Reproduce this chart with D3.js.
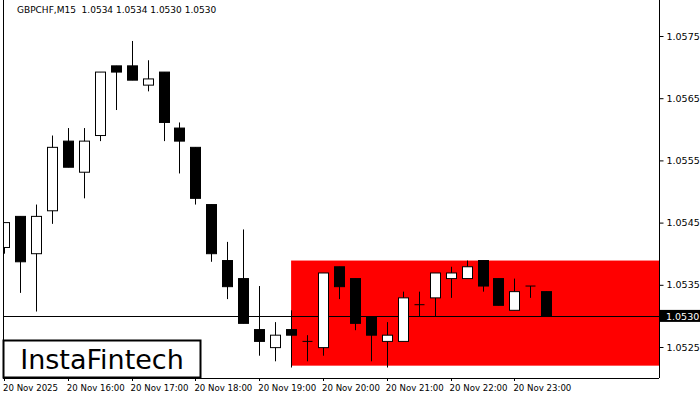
<!DOCTYPE html>
<html><head><meta charset="utf-8">
<script src="https://cdn.jsdelivr.net/npm/d3@7"></script>
<style>body{margin:0;background:#fff}text{font-family:"DejaVu Sans",sans-serif;white-space:pre}</style>
</head><body><svg id="c" width="700" height="400"></svg>
<script>
const opens =[1.05410,1.05460,1.05400,1.05469,1.05581,1.05531,1.05590,1.05702,1.05702,1.05671,1.05692,1.05602,1.05571,1.05479,1.05389,1.05360,1.05278,1.05249,1.05278,1.05259,1.05249,1.05379,1.05360,1.05299,1.05259,1.05259,1.05318,1.05329,1.05360,1.05360,1.05389,1.05360,1.05309,1.05348,1.05339];
const highs =[1.05450,1.05460,1.05479,1.05590,1.05602,1.05602,1.05692,1.05702,1.05742,1.05711,1.05692,1.05611,1.05571,1.05479,1.05419,1.05439,1.05348,1.05290,1.05309,1.05269,1.05369,1.05379,1.05360,1.05299,1.05290,1.05339,1.05339,1.05369,1.05379,1.05389,1.05389,1.05360,1.05360,1.05348,1.05339];
const lows  =[1.05400,1.05337,1.05307,1.05448,1.05539,1.05489,1.05581,1.05631,1.05679,1.05661,1.05581,1.05529,1.05479,1.05387,1.05327,1.05288,1.05236,1.05227,1.05217,1.05227,1.05236,1.05327,1.05277,1.05227,1.05217,1.05259,1.05299,1.05299,1.05329,1.05360,1.05339,1.05317,1.05309,1.05329,1.05299];
const closes=[1.05450,1.05387,1.05460,1.05571,1.05539,1.05581,1.05692,1.05692,1.05679,1.05681,1.05611,1.05581,1.05489,1.05400,1.05347,1.05288,1.05259,1.05269,1.05269,1.05259,1.05369,1.05347,1.05288,1.05269,1.05269,1.05329,1.05318,1.05369,1.05369,1.05379,1.05348,1.05317,1.05339,1.05348,1.05299];
const priceTicks=[1.0525,1.0535,1.0545,1.0555,1.0565,1.0575];
const timeLabels=["20 Nov 2025","20 Nov 16:00","20 Nov 17:00","20 Nov 18:00","20 Nov 19:00","20 Nov 20:00","20 Nov 21:00","20 Nov 22:00","20 Nov 23:00"];
const timeIdx=[0,4,8,12,16,20,24,28,32];
const zoneTop=1.05389, zoneBottom=1.05220, zoneStart=18, current=1.0530;
const title="GBPCHF,M15  1.0534 1.0534 1.0530 1.0530";

const svg=d3.select("#c");
const x=d3.scaleLinear().domain([0,1]).range([4,19.95]);
const y=d3.scaleLinear().domain([1.0525,1.0575]).range([347,36]);
const L=3,R=659,B=378;
svg.append("rect").attr("x",x(zoneStart)).attr("y",y(zoneTop)).attr("width",R-x(zoneStart)).attr("height",y(zoneBottom)-y(zoneTop)).attr("fill","#ff0000");
svg.append("line").attr("x1",L).attr("x2",R).attr("y1",Math.round(y(current))+0.5).attr("y2",Math.round(y(current))+0.5).attr("stroke","#000");
const g=svg.append("g");
opens.forEach((o,i)=>{
  const cx=Math.round(x(i))+0.5, c=closes[i];
  g.append("line").attr("x1",cx).attr("x2",cx).attr("y1",y(highs[i])).attr("y2",y(lows[i])).attr("stroke","#000").attr("stroke-width",1);
  const top=y(Math.max(o,c)), bot=y(Math.min(o,c));
  if(Math.abs(bot-top)<1){ g.append("line").attr("x1",cx-5).attr("x2",cx+5).attr("y1",top).attr("y2",top).attr("stroke","#000");}
  else g.append("rect").attr("x",cx-5).attr("y",top).attr("width",10).attr("height",bot-top).attr("fill",c>=o?"#fff":"#000").attr("stroke","#000").attr("stroke-width",1);
});
svg.append("rect").attr("x",0).attr("y",0).attr("width",L).attr("height",400).attr("fill","#fff");
svg.append("line").attr("x1",L+0.5).attr("x2",L+0.5).attr("y1",0).attr("y2",B).attr("stroke","#000");
svg.append("line").attr("x1",R+0.5).attr("x2",R+0.5).attr("y1",0).attr("y2",B).attr("stroke","#000");
svg.append("line").attr("x1",L).attr("x2",R).attr("y1",B+0.5).attr("y2",B+0.5).attr("stroke","#000");
const ya=svg.append("g").attr("transform",`translate(${R+0.5},0)`).call(d3.axisRight(y).tickValues(priceTicks).tickFormat(d3.format(".4f")).tickSize(4).tickPadding(3));
ya.select(".domain").remove();
ya.selectAll("text").attr("font-size",9.5).attr("font-family","DejaVu Sans");
const cy=y(current);
svg.append("rect").attr("x",R+1).attr("y",cy-6).attr("width",40).attr("height",12).attr("fill","#000");
svg.append("text").attr("x",R+7).attr("y",cy+4).attr("font-size",9.5).attr("fill","#fff").text(d3.format(".4f")(current));
timeLabels.forEach((t,k)=>{
  svg.append("line").attr("x1",Math.round(x(timeIdx[k]))+0.5).attr("x2",Math.round(x(timeIdx[k]))+0.5).attr("y1",B).attr("y2",B+3).attr("stroke","#000");
  svg.append("text").attr("x",x(timeIdx[k])-1).attr("y",B+13).attr("font-size",8.6).text(t);
});
svg.append("text").attr("x",17).attr("y",13).attr("font-size",9).text(title);
svg.append("rect").attr("x",3.5).attr("y",340.5).attr("width",197).attr("height",37).attr("fill","#fff").attr("stroke","#000").attr("stroke-width",2);
svg.append("text").attr("x",102).attr("y",369).attr("text-anchor","middle").attr("font-size",27).attr("font-family","Roboto").text("InstaFintech");
</script></body></html>
